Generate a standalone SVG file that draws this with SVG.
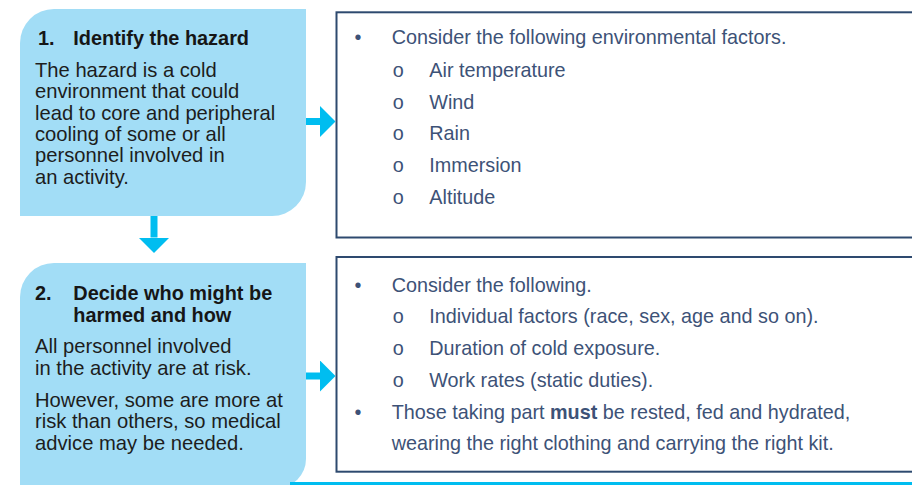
<svg xmlns="http://www.w3.org/2000/svg" width="912" height="485" viewBox="0 0 912 485">
  <style>
    .step { fill: #a2ddf6; }
    .panel { fill: #ffffff; stroke: #2e4a6f; stroke-width: 2; }
    .title { font-family: "Liberation Sans", Arial, sans-serif; font-size: 19.9px; font-weight: bold; fill: #161616; }
    .body { font-family: "Liberation Sans", Arial, sans-serif; font-size: 20.2px; fill: #1d1d1d; }
    .list { font-family: "Liberation Sans", Arial, sans-serif; font-size: 19.8px; fill: #3d5277; }
    .flow { stroke: #00bdf0; stroke-width: 7; fill: none; }
    .rule { fill: #00bdf0; }
  </style>
  <defs>
    <marker id="head" markerUnits="userSpaceOnUse" markerWidth="16" markerHeight="31" refX="0" refY="15.5" orient="auto">
      <path d="M0,0 L15.5,15.5 L0,31 Z" fill="#00bdf0"/>
    </marker>
  </defs>

  <rect width="912" height="485" fill="#ffffff"/>

  <!-- Step 1 -->
  <g id="step1">
    <path class="step" d="M20,216 L20,43 A34,34 0 0 1 54,9 L306,9 L306,182 A34,34 0 0 1 272,216 Z"/>
    <text class="title" y="45"><tspan x="38">1.</tspan><tspan x="73.3">Identify the hazard</tspan></text>
    <text class="body">
      <tspan x="35" y="77">The hazard is a cold</tspan>
      <tspan x="35" y="98.3">environment that could</tspan>
      <tspan x="35" y="119.6">lead to core and peripheral</tspan>
      <tspan x="35" y="140.9">cooling of some or all</tspan>
      <tspan x="35" y="162.2">personnel involved in</tspan>
      <tspan x="35" y="183.5">an activity.</tspan>
    </text>
  </g>

  <!-- Environmental factors -->
  <g id="factors1">
    <rect class="panel" x="336.5" y="12.3" width="590" height="225.2"/>
    <text class="list">
      <tspan x="354.5" y="44.3">•</tspan>
      <tspan x="391.7" y="44.3">Consider the following environmental factors.</tspan>
      <tspan x="392.7" y="76.5">o</tspan><tspan x="429.3" y="76.5">Air temperature</tspan>
      <tspan x="392.7" y="108.5">o</tspan><tspan x="429.3" y="108.5">Wind</tspan>
      <tspan x="392.7" y="140.3">o</tspan><tspan x="429.3" y="140.3">Rain</tspan>
      <tspan x="392.7" y="172.3">o</tspan><tspan x="429.3" y="172.3">Immersion</tspan>
      <tspan x="392.7" y="204.2">o</tspan><tspan x="429.3" y="204.2">Altitude</tspan>
    </text>
  </g>

  <!-- Step 2 -->
  <g id="step2">
    <path class="step" d="M20,488 L20,297 A34,34 0 0 1 54,263 L306,263 L306,459 A29,29 0 0 1 277,488 Z"/>
    <text class="title">
      <tspan x="35" y="300">2.</tspan><tspan x="73.3" y="300">Decide who might be</tspan>
      <tspan x="73.3" y="321.7">harmed and how</tspan>
    </text>
    <text class="body">
      <tspan x="35" y="353.3">All personnel involved</tspan>
      <tspan x="35" y="375">in the activity are at risk.</tspan>
      <tspan x="35" y="406.7">However, some are more at</tspan>
      <tspan x="35" y="428.3">risk than others, so medical</tspan>
      <tspan x="35" y="450">advice may be needed.</tspan>
    </text>
  </g>

  <!-- Who might be harmed -->
  <g id="factors2">
    <rect class="panel" x="336.5" y="257" width="590" height="214.7"/>
    <text class="list">
      <tspan x="354.5" y="291.7">•</tspan>
      <tspan x="391.7" y="291.7">Consider the following.</tspan>
      <tspan x="392.7" y="323.4">o</tspan><tspan x="429.3" y="323.4">Individual factors (race, sex, age and so on).</tspan>
      <tspan x="392.7" y="355.1">o</tspan><tspan x="429.3" y="355.1">Duration of cold exposure.</tspan>
      <tspan x="392.7" y="386.8">o</tspan><tspan x="429.3" y="386.8">Work rates (static duties).</tspan>
      <tspan x="354.5" y="418.5">•</tspan>
      <tspan x="391.7" y="418.5">Those taking part <tspan font-weight="bold">must</tspan> be rested, fed and hydrated,</tspan>
      <tspan x="391.7" y="450.2">wearing the right clothing and carrying the right kit.</tspan>
    </text>
  </g>

  <!-- Connectors -->
  <g id="connectors">
    <line class="flow" x1="154" y1="216" x2="154" y2="237.5" marker-end="url(#head)"/>
    <line class="flow" x1="306" y1="121.5" x2="320" y2="121.5" marker-end="url(#head)"/>
    <line class="flow" x1="306" y1="376" x2="320" y2="376" marker-end="url(#head)"/>
  </g>

  <!-- Base rule -->
  <rect class="rule" x="290" y="482" width="622" height="3"/>
</svg>
